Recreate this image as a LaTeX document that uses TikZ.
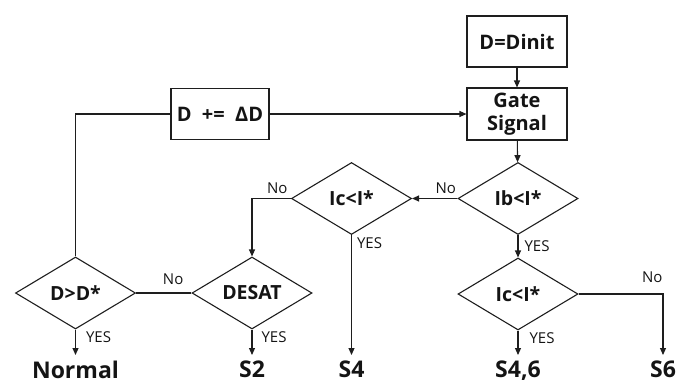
\documentclass[tikz,border=0pt]{standalone}
\usepackage{fontspec}
\setmainfont{Open Sans}
\usetikzlibrary{arrows.meta,shapes.geometric}
\begin{document}
\begin{tikzpicture}[x=1pt,y=-1pt,
  line width=1.1pt, draw={rgb,255:red,30;green,30;blue,30},
  every node/.style={text={rgb,255:red,20;green,20;blue,20}},
  arr/.style={-{Triangle[length=7pt,width=6pt]}},
  procbox/.style={draw, rectangle, minimum width=100pt, minimum height=51pt,
    inner sep=0pt, align=center, font=\bfseries\fontsize{20}{23}\selectfont},
  decide/.style={draw, diamond, shape aspect=1.67, minimum width=120pt,
    minimum height=72pt, inner sep=0pt, font=\bfseries\fontsize{19.5}{19.5}\selectfont},
  outcome/.style={inner xsep=0pt, inner ysep=5pt, anchor=north,
    font=\bfseries\fontsize{23}{23}\selectfont},
  lbl/.style={inner sep=0pt, font=\fontsize{15}{15}\selectfont}]
\useasboundingbox (0,0) rectangle (676,383);

% process boxes
\node[procbox] (init) at (517,41.5) {D=Dinit};
\node[procbox, minimum height=52pt] (gate) at (517,114) {Gate\\Signal};
\node[procbox, minimum width=98pt] (inc) at (220,114) {D \ +=\ \ ΔD};

% decisions
\node[decide] (ib) at (518,198.5) {Ib<I*};
\node[decide] (ica) at (351.5,198.5) {Ic<I*};
\node[decide] (icb) at (518,294) {Ic<I*};
\node[decide] (desat) at (252,293) {DESAT};
\node[decide] (dd) at (75.5,293) {D>D*};

% outcomes
\node[outcome] (normal) at (75.5,355) {Normal};
\node[outcome] (s2) at (252,355) {S2};
\node[outcome] (s4) at (351.5,355) {S4};
\node[outcome] (s46) at (518,355) {S4,6};
\node[outcome] (s6) at (663,355) {S6};

% flow
\draw[arr] (init) -- (gate);
\draw[arr] (inc) -- (gate);
\draw (dd.north) |- (inc.west);
\draw[arr] (gate) -- (ib);
\draw[arr] (ib.west) -- (ica.east)
  node[lbl, pos=0, anchor=south east, xshift=-1pt, yshift=4pt] (nob) {No};
\draw[arr] (ica.west) -| (desat.north)
  node[lbl, pos=0, anchor=south east, xshift=-3pt, yshift=4pt] (noa) {No};
\draw[arr] (ica.south) -- (s4.north)
  node[lbl, pos=0.07, anchor=west, xshift=5pt] (yesa) {YES};
\draw[arr] (ib.south) -- (icb.north)
  node[lbl, pos=0.5, anchor=west, xshift=6pt] (yesb) {YES};
\draw[arr] (icb.east) -| (s6.north)
  node[lbl, pos=0.5, anchor=south east, yshift=11pt] (noc) {No};
\draw[arr] (icb.south) -- (s46.north)
  node[lbl, pos=0.3, anchor=west, xshift=11pt] (yesc) {YES};
\draw (desat.west) -- (dd.east)
  node[lbl, pos=0.33, anchor=south, yshift=8pt] (nod) {No};
\draw[arr] (desat.south) -- (s2.north)
  node[lbl, pos=0.28, anchor=west, xshift=9pt] (yesd) {YES};
\draw[arr] (dd.south) -- (normal.north)
  node[lbl, pos=0.28, anchor=west, xshift=10pt] (yese) {YES};
\end{tikzpicture}
\end{document}
